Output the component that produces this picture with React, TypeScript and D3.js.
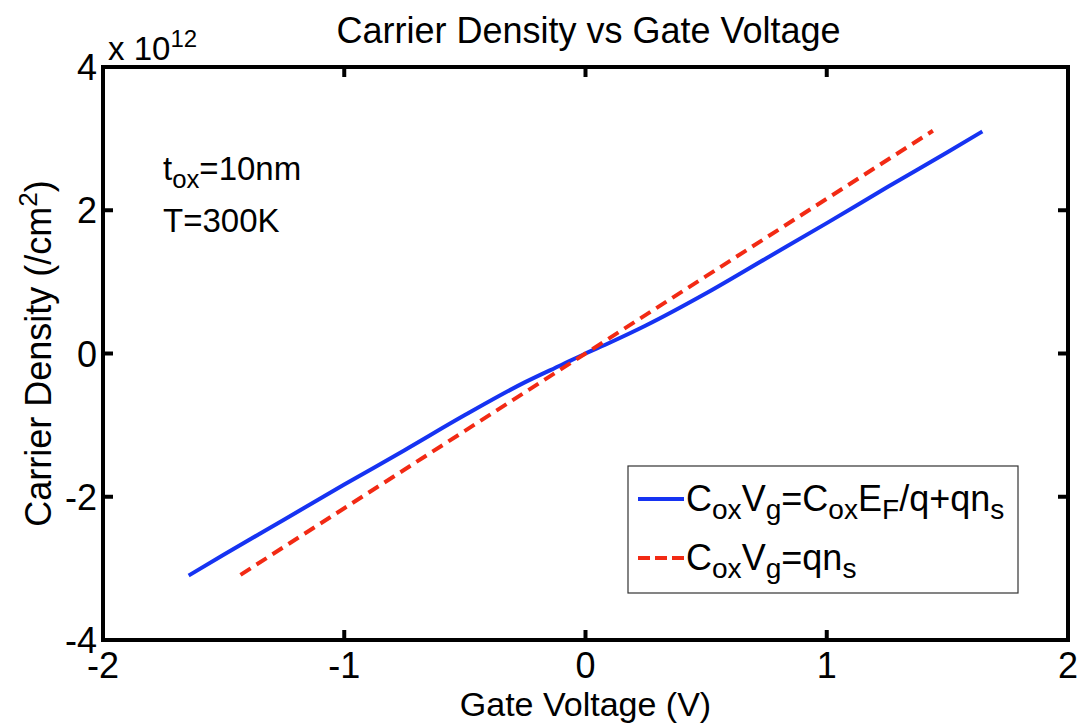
import * as React from 'react';
import * as d3 from 'd3';

// gate voltage (V) vs carrier density (x1e12 /cm^2)
const fullVg = [-1.645, -1.5, -1.25, -1.0, -0.75, -0.5, -0.25, -0.1, 0, 0.1, 0.25, 0.5, 0.75, 1.0, 1.25, 1.5, 1.645];
const fullN = [-3.1, -2.81, -2.32, -1.83, -1.35, -0.86, -0.4, -0.16, 0, 0.15, 0.39, 0.84, 1.33, 1.82, 2.32, 2.81, 3.1];

const simpleVg = [-1.43, -1.0, -0.5, 0, 0.5, 1.0, 1.44];
const simpleN = [-3.09, -2.16, -1.08, 0, 1.08, 2.16, 3.11];

const xTicks = [-2, -1, 0, 1, 2];
const yTicks = [-4, -2, 0, 2, 4];

const W = 1083;
const H = 723;
const m = { left: 103, right: 1068, top: 67, bottom: 640 };
const font = "'Liberation Sans', Arial, sans-serif";

const Sub = ({ children }) => (
	<tspan baselineShift='-30%' fontSize='0.78em'>
		{children}
	</tspan>
);

export default function App() {
	const x = d3.scaleLinear().domain([-2, 2]).range([m.left, m.right]);
	const y = d3.scaleLinear().domain([-4, 4]).range([m.bottom, m.top]);

	const line = d3
		.line<[number, number]>()
		.x(d => x(d[0]))
		.y(d => y(d[1]));
	const smooth = d3
		.line<[number, number]>()
		.x(d => x(d[0]))
		.y(d => y(d[1]))
		.curve(d3.curveMonotoneX);

	const full = fullVg.map((v, i) => [v, fullN[i]] as [number, number]);
	const simple = simpleVg.map((v, i) => [v, simpleN[i]] as [number, number]);

	return (
		<svg width={W} height={H} style={{ position: 'absolute', left: 0, top: 0, background: '#fff' }} fontFamily={font}>
			<rect width={W} height={H} fill='#fff' />
			<text x={(m.left + m.right) / 2 + 3} y={43} fontSize={36} textAnchor='middle'>
				Carrier Density vs Gate Voltage
			</text>

			<path d={smooth(full)} fill='none' stroke='#1633f2' strokeWidth={4} />
			<path d={line(simple)} fill='none' stroke='#f22a14' strokeWidth={4} strokeDasharray='12 7' />

			{/* axes box */}
			<rect
				x={m.left}
				y={m.top}
				width={m.right - m.left}
				height={m.bottom - m.top}
				fill='none'
				stroke='#000'
				strokeWidth={4}
			/>
			{xTicks.map(t => (
				<g key={'x' + t}>
					<line x1={x(t)} x2={x(t)} y1={m.bottom} y2={m.bottom - 10} stroke='#000' strokeWidth={4} />
					<line x1={x(t)} x2={x(t)} y1={m.top} y2={m.top + 10} stroke='#000' strokeWidth={4} />
					<text x={x(t)} y={m.bottom + 38} fontSize={36} textAnchor='middle'>
						{t}
					</text>
				</g>
			))}
			{yTicks.map(t => (
				<g key={'y' + t}>
					<line x1={m.left} x2={m.left + 10} y1={y(t)} y2={y(t)} stroke='#000' strokeWidth={4} />
					<line x1={m.right} x2={m.right - 10} y1={y(t)} y2={y(t)} stroke='#000' strokeWidth={4} />
					<text x={m.left - 6} y={y(t) + 13} fontSize={36} textAnchor='end'>
						{t}
					</text>
				</g>
			))}
			<text x={m.left + 5} y={60} fontSize={33}>
				x 10
				<tspan baselineShift='55%' fontSize={24}>
					12
				</tspan>
			</text>

			<text x={(m.left + m.right) / 2} y={716} fontSize={34} textAnchor='middle'>
				Gate Voltage (V)
			</text>
			<text transform={`translate(51, ${(m.top + m.bottom) / 2}) rotate(-90)`} fontSize={36} textAnchor='middle'>
				Carrier Density (/cm
				<tspan baselineShift='55%' fontSize={26}>
					2
				</tspan>
				)
			</text>

			<text x={163} y={180} fontSize={33}>
				t<Sub>ox</Sub>
				<tspan baselineShift='0'>=10nm</tspan>
			</text>
			<text x={163} y={232} fontSize={33}>
				T=300K
			</text>

			{/* legend */}
			<g>
				<rect x={628} y={466} width={390} height={127} fill='#fff' stroke='#333' strokeWidth={1.2} />
				<line x1={638} x2={684} y1={499} y2={499} stroke='#1633f2' strokeWidth={4} />
				<line x1={638} x2={684} y1={558} y2={558} stroke='#f22a14' strokeWidth={4} strokeDasharray='12 5' />
				<text x={686} y={511} fontSize={36}>
					C<Sub>ox</Sub>
					<tspan baselineShift='0'>V</tspan>
					<Sub>g</Sub>
					<tspan baselineShift='0'>=C</tspan>
					<Sub>ox</Sub>
					<tspan baselineShift='0'>E</tspan>
					<Sub>F</Sub>
					<tspan baselineShift='0'>/q+qn</tspan>
					<Sub>s</Sub>
				</text>
				<text x={686} y={570} fontSize={36}>
					C<Sub>ox</Sub>
					<tspan baselineShift='0'>V</tspan>
					<Sub>g</Sub>
					<tspan baselineShift='0'>=qn</tspan>
					<Sub>s</Sub>
				</text>
			</g>
		</svg>
	);
}
